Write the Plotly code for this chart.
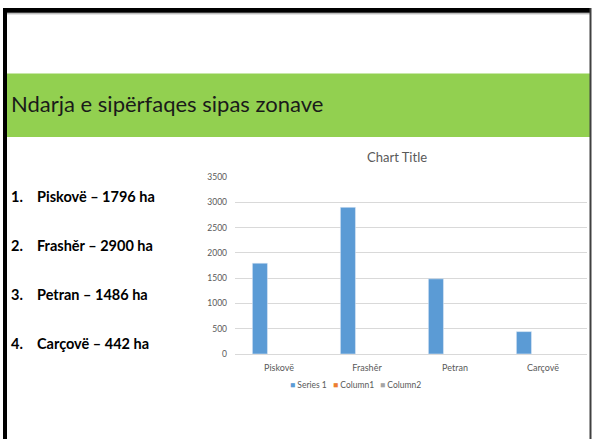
import plotly.graph_objects as go

# ---- data ----
categories = ["Piskovë", "Frashěr", "Petran", "Carçovë"]
series1 = [1796, 2900, 1486, 442]
column1 = [None, None, None, None]
column2 = [None, None, None, None]
series_names = ["Series 1", "Column1", "Column2"]
series_colors = ["#5B9BD5", "#ED7D31", "#A5A5A5"]
y_ticks = [0, 500, 1000, 1500, 2000, 2500, 3000, 3500]
slide_title = "Ndarja e sipërfaqes sipas zonave"
chart_title = "Chart Title"

W, H = 593, 444
def X(px):
    return px / W
def Y(py):
    return 1 - py / H

FONT = "Lato"
GREY = "#595959"

fig = go.Figure()
for name, vals, col in zip(series_names, [series1, column1, column2], series_colors):
    fig.add_trace(go.Bar(x=categories, y=vals, name=name, marker_color=col,
                         hoverinfo="skip", showlegend=False))

shapes = [
    # green title band
    dict(type="rect", xref="paper", yref="paper", x0=X(6), x1=X(590), y0=Y(135), y1=Y(70),
         fillcolor="#92D050", line_width=0, layer="below"),
    # slide borders
    dict(type="rect", xref="paper", yref="paper", x0=X(3), x1=X(590), y0=Y(8), y1=Y(3),
         fillcolor="#000000", line_width=0),
    dict(type="line", xref="paper", yref="paper", x0=X(7), x1=X(590), y0=Y(9), y1=Y(9),
         line=dict(color="#A0A0A0", width=1)),
    dict(type="rect", xref="paper", yref="paper", x0=X(3), x1=X(7), y0=Y(444), y1=Y(3),
         fillcolor="#000000", line_width=0),
    dict(type="rect", xref="paper", yref="paper", x0=X(589.5), x1=X(591.5), y0=Y(444), y1=Y(3),
         fillcolor="#404040", line_width=0),
]

annotations = [
    dict(text=slide_title, x=X(9), y=Y(101), xref="paper", yref="paper",
         xanchor="left", yanchor="middle", showarrow=False,
         font=dict(family=FONT, size=22, color="#1a1a1a")),
    dict(text=chart_title, x=X(397), y=Y(156), xref="paper", yref="paper",
         xanchor="center", yanchor="middle", showarrow=False,
         font=dict(family=FONT, size=13, color=GREY)),
]

row_y = [196, 246, 296, 346]
for i, (cat, val) in enumerate(zip(categories, series1)):
    annotations.append(dict(text=f"<b>{i+1}.</b>", x=X(9), y=Y(row_y[i]), xref="paper", yref="paper",
                            xanchor="left", yanchor="middle", showarrow=False,
                            font=dict(family=FONT, size=14.5, color="#000000")))
    annotations.append(dict(text=f"<b>{cat} – {val} ha</b>", x=X(35), y=Y(row_y[i]), xref="paper",
                            yref="paper", xanchor="left", yanchor="middle", showarrow=False,
                            font=dict(family=FONT, size=14.5, color="#000000")))

legend_x = [288, 330.5, 378]
for name, col, lx in zip(series_names, series_colors, legend_x):
    annotations.append(dict(text=f"<span style='color:{col}'>■</span> {name}", x=X(lx), y=Y(389),
                            xref="paper", yref="paper", xanchor="left", yanchor="middle",
                            showarrow=False, font=dict(family=FONT, size=8.5, color=GREY)))

fig.update_layout(
    width=W, height=H, margin=dict(l=0, r=0, t=0, b=0),
    paper_bgcolor="white", plot_bgcolor="white",
    barmode="group", bargap=0.35, bargroupgap=0.21,
    shapes=shapes, annotations=annotations,
    xaxis=dict(domain=[X(235), X(587)], showgrid=False, showline=True, linecolor="#D9D9D9",
               linewidth=1, ticks="", tickfont=dict(family=FONT, size=9, color=GREY),
               ticklabelstandoff=5, fixedrange=True),
    yaxis=dict(domain=[Y(357), Y(176)], range=[0, 3500], tickvals=y_ticks, showgrid=True,
               gridcolor="#D9D9D9", gridwidth=1, zeroline=False, showline=False, ticks="",
               tickfont=dict(family=FONT, size=8.5, color=GREY), ticklabelstandoff=7,
               fixedrange=True),
    showlegend=False,
)

fig.write_html("out.html", config={"displayModeBar": False},
               post_script="document.body.style.margin='0';document.body.style.overflow='hidden';")
